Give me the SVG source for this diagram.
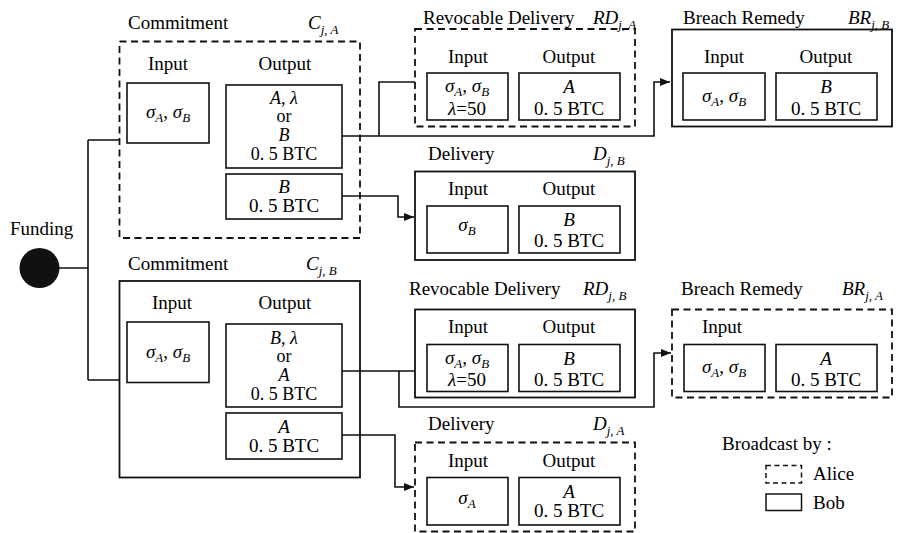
<svg xmlns="http://www.w3.org/2000/svg" width="909" height="533" viewBox="0 0 909 533" font-family="Times New Roman, serif" font-size="19">
<defs>
<marker id="ah" markerUnits="userSpaceOnUse" markerWidth="11" markerHeight="9" refX="10" refY="4.5" orient="auto">
<path d="M0,0.5 L10,4.5 L0,8.5 z" fill="#111"/>
</marker>
</defs>
<rect width="909" height="533" fill="#fff"/>

<g id="connectors" fill="none" stroke="#111" stroke-width="1.6">
<path d="M59,268 H88 M88,140 V380 M88,140 H119.5 M88,380 H119.5"/>
<path d="M342,136 H654 V82 H670" marker-end="url(#ah)"/>
<path d="M379,136 V82 H415"/>
<path d="M342,196 H398 V217 H414" marker-end="url(#ah)"/>
<path d="M342,371 H415"/>
<path d="M399,371 V407 H654 V353 H671" marker-end="url(#ah)"/>
<path d="M342,435 H395 V487 H414" marker-end="url(#ah)"/>
</g>

<g id="funding">
<circle cx="39.5" cy="268" r="20" fill="#111"/>
<text x="10" y="235">Funding</text>
</g>

<g id="commit-a">
<text x="128" y="29">Commitment</text>
<text x="308" y="29" font-style="italic">C<tspan font-size="13" dy="5">j, A</tspan></text>
<rect x="119.5" y="41.5" width="240.5" height="196.5" fill="none" stroke="#111" stroke-width="1.8" stroke-dasharray="7 4.5"/>
<text text-anchor="middle" x="168" y="70">Input</text>
<text text-anchor="middle" x="285" y="70">Output</text>
<rect x="127" y="83" width="82" height="60" fill="none" stroke="#111" stroke-width="1.6"/>
<text text-anchor="middle" font-style="italic" x="168" y="118">σ<tspan font-size="13" dy="4">A</tspan><tspan dy="-4" font-style="normal">, </tspan>σ<tspan font-size="13" dy="4">B</tspan></text>
<rect x="226" y="85" width="116" height="83" fill="none" stroke="#111" stroke-width="1.6"/>
<text text-anchor="middle" font-style="italic" font-size="18" x="284" y="104">A<tspan font-style="normal">, </tspan>λ</text>
<text text-anchor="middle" font-size="18" x="284" y="122">or</text>
<text text-anchor="middle" font-style="italic" font-size="18" x="284" y="141">B</text>
<text text-anchor="middle" font-size="18" x="284" y="160">0. 5 BTC</text>
<rect x="226" y="174" width="116" height="45" fill="none" stroke="#111" stroke-width="1.6"/>
<text text-anchor="middle" font-style="italic" x="284" y="193">B</text>
<text text-anchor="middle" x="284" y="212">0. 5 BTC</text>
</g>

<g id="rd-a">
<text x="423" y="24">Revocable Delivery</text>
<text x="593" y="24" font-style="italic">RD<tspan font-size="13" dy="5">j, A</tspan></text>
<rect x="415" y="29" width="220" height="97.5" fill="none" stroke="#111" stroke-width="1.8" stroke-dasharray="7 4.5"/>
<text text-anchor="middle" x="468" y="63">Input</text>
<text text-anchor="middle" x="569" y="63">Output</text>
<rect x="427" y="73" width="81" height="47" fill="none" stroke="#111" stroke-width="1.6"/>
<text text-anchor="middle" font-style="italic" x="467" y="92">σ<tspan font-size="13" dy="4">A</tspan><tspan dy="-4" font-style="normal">, </tspan>σ<tspan font-size="13" dy="4">B</tspan></text>
<text text-anchor="middle" x="467" y="115"><tspan font-style="italic">λ</tspan>=50</text>
<rect x="519" y="73" width="101" height="47" fill="none" stroke="#111" stroke-width="1.6"/>
<text text-anchor="middle" font-style="italic" x="569" y="93">A</text>
<text text-anchor="middle" x="569" y="115">0. 5 BTC</text>
</g>

<g id="br-b">
<text x="683" y="24">Breach Remedy</text>
<text x="848" y="24" font-style="italic">BR<tspan font-size="13" dy="5">j, B</tspan></text>
<rect x="672" y="29.5" width="220" height="97" fill="none" stroke="#111" stroke-width="1.8"/>
<text text-anchor="middle" x="724" y="63">Input</text>
<text text-anchor="middle" x="826" y="63">Output</text>
<rect x="683" y="73" width="82" height="47" fill="none" stroke="#111" stroke-width="1.6"/>
<text text-anchor="middle" font-style="italic" x="724" y="102">σ<tspan font-size="13" dy="4">A</tspan><tspan dy="-4" font-style="normal">, </tspan>σ<tspan font-size="13" dy="4">B</tspan></text>
<rect x="776" y="73" width="101" height="47" fill="none" stroke="#111" stroke-width="1.6"/>
<text text-anchor="middle" font-style="italic" x="826" y="93">B</text>
<text text-anchor="middle" x="826" y="115">0. 5 BTC</text>
</g>

<g id="del-b">
<text x="428" y="160">Delivery</text>
<text x="593" y="160" font-style="italic">D<tspan font-size="13" dy="5">j, B</tspan></text>
<rect x="415" y="171.5" width="220" height="88.5" fill="none" stroke="#111" stroke-width="1.8"/>
<text text-anchor="middle" x="468" y="195">Input</text>
<text text-anchor="middle" x="569" y="195">Output</text>
<rect x="427" y="206" width="81" height="47" fill="none" stroke="#111" stroke-width="1.6"/>
<text text-anchor="middle" font-style="italic" x="467" y="231">σ<tspan font-size="13" dy="4">B</tspan></text>
<rect x="519" y="206" width="101" height="47" fill="none" stroke="#111" stroke-width="1.6"/>
<text text-anchor="middle" font-style="italic" x="569" y="226">B</text>
<text text-anchor="middle" x="569" y="247">0. 5 BTC</text>
</g>

<g id="commit-b">
<text x="128" y="270">Commitment</text>
<text x="306" y="270" font-style="italic">C<tspan font-size="13" dy="5">j, B</tspan></text>
<rect x="119.5" y="281" width="240.5" height="196.5" fill="none" stroke="#111" stroke-width="1.8"/>
<text text-anchor="middle" x="172" y="309">Input</text>
<text text-anchor="middle" x="285" y="309">Output</text>
<rect x="127" y="322" width="82" height="60.5" fill="none" stroke="#111" stroke-width="1.6"/>
<text text-anchor="middle" font-style="italic" x="168" y="358">σ<tspan font-size="13" dy="4">A</tspan><tspan dy="-4" font-style="normal">, </tspan>σ<tspan font-size="13" dy="4">B</tspan></text>
<rect x="226" y="324" width="116" height="83" fill="none" stroke="#111" stroke-width="1.6"/>
<text text-anchor="middle" font-style="italic" font-size="18" x="284" y="344">B<tspan font-style="normal">, </tspan>λ</text>
<text text-anchor="middle" font-size="18" x="284" y="362">or</text>
<text text-anchor="middle" font-style="italic" font-size="18" x="284" y="381">A</text>
<text text-anchor="middle" font-size="18" x="284" y="400">0. 5 BTC</text>
<rect x="226" y="413" width="116" height="46" fill="none" stroke="#111" stroke-width="1.6"/>
<text text-anchor="middle" font-style="italic" x="284" y="433">A</text>
<text text-anchor="middle" x="284" y="452">0. 5 BTC</text>
</g>

<g id="rd-b">
<text x="409" y="295">Revocable Delivery</text>
<text x="583" y="295" font-style="italic">RD<tspan font-size="13" dy="5">j, B</tspan></text>
<rect x="415" y="309.5" width="220" height="88" fill="none" stroke="#111" stroke-width="1.8"/>
<text text-anchor="middle" x="468" y="333">Input</text>
<text text-anchor="middle" x="569" y="333">Output</text>
<rect x="427" y="344.5" width="81" height="47" fill="none" stroke="#111" stroke-width="1.6"/>
<text text-anchor="middle" font-style="italic" x="467" y="364">σ<tspan font-size="13" dy="4">A</tspan><tspan dy="-4" font-style="normal">, </tspan>σ<tspan font-size="13" dy="4">B</tspan></text>
<text text-anchor="middle" x="467" y="386"><tspan font-style="italic">λ</tspan>=50</text>
<rect x="519" y="344.5" width="101" height="47" fill="none" stroke="#111" stroke-width="1.6"/>
<text text-anchor="middle" font-style="italic" x="569" y="365">B</text>
<text text-anchor="middle" x="569" y="386">0. 5 BTC</text>
</g>

<g id="br-a">
<text x="681" y="295">Breach Remedy</text>
<text x="842" y="295" font-style="italic">BR<tspan font-size="13" dy="5">j, A</tspan></text>
<rect x="672" y="309.5" width="220" height="88" fill="none" stroke="#111" stroke-width="1.8" stroke-dasharray="7 4.5"/>
<text text-anchor="middle" x="722" y="333">Input</text>
<rect x="684" y="344.5" width="81" height="47" fill="none" stroke="#111" stroke-width="1.6"/>
<text text-anchor="middle" font-style="italic" x="724" y="373">σ<tspan font-size="13" dy="4">A</tspan><tspan dy="-4" font-style="normal">, </tspan>σ<tspan font-size="13" dy="4">B</tspan></text>
<rect x="776" y="344.5" width="101" height="47" fill="none" stroke="#111" stroke-width="1.6"/>
<text text-anchor="middle" font-style="italic" x="826" y="365">A</text>
<text text-anchor="middle" x="826" y="386">0. 5 BTC</text>
</g>

<g id="del-a">
<text x="428" y="430">Delivery</text>
<text x="593" y="430" font-style="italic">D<tspan font-size="13" dy="5">j, A</tspan></text>
<rect x="415" y="442.5" width="220" height="89" fill="none" stroke="#111" stroke-width="1.8" stroke-dasharray="7 4.5"/>
<text text-anchor="middle" x="468" y="467">Input</text>
<text text-anchor="middle" x="569" y="467">Output</text>
<rect x="427" y="477.5" width="81" height="47.5" fill="none" stroke="#111" stroke-width="1.6"/>
<text text-anchor="middle" font-style="italic" x="467" y="504">σ<tspan font-size="13" dy="4">A</tspan></text>
<rect x="519" y="477.5" width="101" height="47.5" fill="none" stroke="#111" stroke-width="1.6"/>
<text text-anchor="middle" font-style="italic" x="569" y="498">A</text>
<text text-anchor="middle" x="569" y="517">0. 5 BTC</text>
</g>

<g id="legend">
<text x="722" y="450">Broadcast by :</text>
<rect x="766" y="465.5" width="35.5" height="17.5" fill="none" stroke="#111" stroke-width="1.5" stroke-dasharray="5 3.5"/>
<text x="813" y="480">Alice</text>
<rect x="766" y="494" width="35.5" height="16.5" fill="none" stroke="#111" stroke-width="1.5"/>
<text x="813" y="509">Bob</text>
</g>
</svg>
